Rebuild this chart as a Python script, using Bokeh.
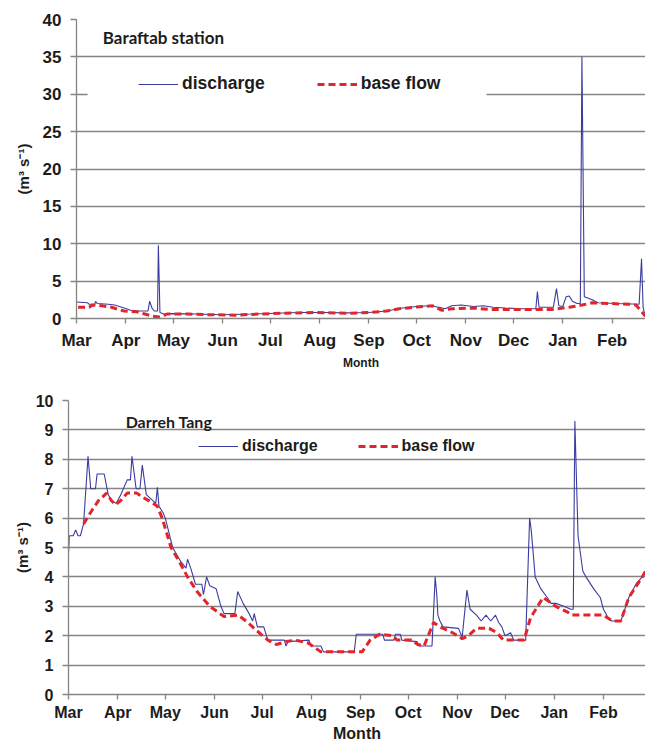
from bokeh.plotting import figure
from bokeh.models import Range1d, FixedTicker, Legend, LegendItem, Label, BoxAnnotation
from bokeh.embed import file_html
from bokeh.resources import INLINE

# ---------------- data ----------------
months = ["Mar", "Apr", "May", "Jun", "Jul", "Aug", "Sep", "Oct", "Nov", "Dec", "Jan", "Feb"]
month_start_day = [0, 31, 61, 92, 122, 153, 184, 214, 245, 275, 306, 337]

# Baraftab station (day since 1 Mar, m3/s)
baraftab_q_day = [0, 7, 8, 11.5, 12, 13, 20, 24, 27, 30, 34, 38, 45, 46, 47.5, 49, 51, 51.5, 52.5,
                  55, 60, 75, 92, 110, 125, 140, 155, 170, 184, 195, 205, 214, 222, 228, 232, 236,
                  242, 250, 256, 262, 270, 280, 289, 290, 291, 300, 302, 303.5, 306, 308, 310, 312,
                  315, 317, 318, 319.5, 322, 324.5, 328, 340, 354, 355.5, 356.5, 357.5]
baraftab_q = [2.2, 2.1, 1.9, 1.9, 2.3, 2.0, 1.9, 1.8, 1.6, 1.4, 1.1, 1.0, 1.0, 2.3, 1.4, 1.0, 1.0, 9.8, 0.8,
              0.6, 0.65, 0.6, 0.5, 0.6, 0.7, 0.8, 0.8, 0.75, 0.8, 1.0, 1.4, 1.6, 1.7, 1.5, 1.3, 1.7,
              1.8, 1.6, 1.7, 1.5, 1.4, 1.3, 1.3, 3.6, 1.5, 1.5, 4.0, 1.7, 1.6, 2.9, 3.0, 2.3,
              2.0, 2.0, 35.0, 2.9, 2.7, 2.5, 2.1, 2.0, 1.9, 8.0, 1.5, 0.5]
baraftab_bf_day = [1, 8, 10, 16, 22, 25, 30, 38, 43, 48, 52, 54, 57, 70, 85, 100, 115, 130, 150, 170,
                   185, 195, 203, 212, 224, 230, 236, 250, 260, 299, 310, 318, 324.5, 348, 352, 358]
baraftab_bf = [1.5, 1.5, 1.8, 1.7, 1.5, 1.3, 1.0, 0.9, 0.6, 0.3, 0.2, 0.3, 0.6, 0.6, 0.5, 0.45, 0.6, 0.7,
               0.8, 0.7, 0.8, 1.0, 1.3, 1.5, 1.7, 1.1, 1.3, 1.4, 1.2, 1.2, 1.5, 1.8, 2.1, 1.9, 1.8, 0.3]

# Darreh Tang station
darreh_q_day = [0, 0.5, 3, 4.5, 6, 7.5, 9.5, 12.3, 14, 17, 18, 22.5, 25, 27, 30, 33, 37, 39, 40, 42.6,
                45, 46.5, 49, 53, 55, 56, 57, 59.4, 61, 65.6, 71, 74, 75, 77, 80, 84, 85, 87, 89, 93,
                96, 98, 104.8, 106.6, 110, 113.8, 116, 117, 119, 123, 125.6, 136, 137, 138.4, 151.5,
                152.8, 159, 160.6, 180, 181.3, 198, 199, 205, 206, 209, 210, 219.5, 221, 229, 231,
                232, 232.7, 234, 236, 245.7, 248, 251, 253, 257, 260, 263, 266, 269, 271, 273, 275,
                278.5, 280.5, 288, 290.5, 291.5, 294, 297.5, 301.6, 304, 307, 312, 316.4, 318, 319,
                321, 324, 326, 330.8, 335, 337, 340, 342, 348, 353, 358, 361.5, 363.5]
darreh_q = [4.8, 5.4, 5.4, 5.6, 5.4, 5.4, 5.8, 8.1, 7.0, 7.0, 7.5, 7.5, 6.8, 6.6, 6.5, 6.8, 7.3, 7.3, 8.1, 7.0,
            7.0, 7.8, 6.8, 6.6, 6.5, 7.05, 6.4, 6.2, 6.0, 5.0, 4.5, 4.3, 4.6, 4.3, 3.75, 3.75, 3.4, 4.0, 3.7, 3.6,
            3.0, 2.75, 2.75, 3.5, 3.1, 2.75, 2.5, 2.75, 2.3, 2.3, 1.85, 1.85, 1.65, 1.8, 1.85,
            1.65, 1.65, 1.45, 1.45, 2.05, 2.05, 1.85, 1.85, 2.05, 2.05, 1.85, 1.8, 1.65, 1.65, 4.0,
            3.4, 2.7, 2.5, 2.3, 2.25, 1.95, 3.55, 2.9, 2.7, 2.5, 2.7, 2.5, 2.7, 2.45, 2.3, 2.0,
            2.1, 1.85, 1.85, 6.0, 5.6, 4.0, 3.6, 3.3, 3.1, 3.1, 3.0, 2.9, 2.9, 9.3,
            5.4, 4.2, 4.0, 3.6, 3.3, 2.9, 2.6, 2.5, 2.5, 3.3, 3.8, 4.0, 4.2]
darreh_bf_day = [9.5, 14, 19, 24, 27, 29.6, 33, 37, 43, 47, 52, 56, 59, 64.6, 70, 75, 81, 89, 98, 107,
                 113, 118, 125.6, 131, 137, 143, 151, 155, 159, 185, 190, 196, 204, 207, 216, 220,
                 224, 230, 234, 242, 248, 252, 257, 265, 270, 274, 287, 291, 299, 307, 314.5, 317,
                 337, 342.6, 348, 353, 361.5, 363.5]
darreh_bf = [5.8, 6.2, 6.6, 6.85, 6.6, 6.45, 6.6, 6.85, 6.85, 6.7, 6.55, 6.4, 6.0, 5.0, 4.5, 4.0, 3.5, 3.0,
             2.65, 2.7, 2.45, 2.2, 1.85, 1.7, 1.8, 1.85, 1.75, 1.6, 1.45, 1.45, 1.85, 2.05, 2.0, 1.85,
             1.85, 1.7, 1.65, 2.45, 2.3, 2.1, 1.9, 2.0, 2.25, 2.25, 2.1, 1.85, 1.85, 2.6, 3.3, 3.0,
             2.8, 2.7, 2.7, 2.5, 2.5, 3.3, 4.0, 4.2]

# ---------------- style ----------------
BLUE = "#3a3d9e"
RED = "#e2242b"
GRID = "#858585"
TXT = "#1c1c1c"
FONT = "Liberation Sans"
TFONT = "Lato"


def make_chart(title, qd, q, bd, b, xmax, ymax, ystep, height, border_left, border_top, border_bottom,
               tick_size, month_size, ylabel_size, legend_loc, legend_spacing, legend_size,
               title_xy, title_size, month_standoff, label_standoff, ylabel_standoff, ytick_standoff):
    p = figure(width=645, height=height, output_backend="svg", toolbar_location=None,
               x_range=Range1d(0, xmax), y_range=Range1d(0, ymax),
               min_border_left=border_left, min_border_right=0,
               min_border_top=border_top, min_border_bottom=border_bottom)
    p.outline_line_color = None
    p.background_fill_color = "white"

    r1 = p.line(qd, q, line_color=BLUE, line_width=1.1)
    r2 = p.line(bd, b, line_color=RED, line_width=3, line_dash="7 4")

    p.xgrid.visible = False
    p.ygrid.grid_line_color = GRID
    p.ygrid.grid_line_width = 1.3

    p.xaxis.ticker = FixedTicker(ticks=month_start_day)
    p.xaxis.major_label_overrides = {d: m for d, m in zip(month_start_day, months)}
    p.yaxis.ticker = FixedTicker(ticks=list(range(0, ymax + 1, ystep)))

    for ax in (p.xaxis, p.yaxis):
        ax.axis_line_color = GRID
        ax.axis_line_width = 1.3
        ax.major_tick_line_color = GRID
        ax.major_tick_line_width = 1.3
        ax.minor_tick_line_color = None
        ax.major_tick_in = 0
        ax.major_label_text_font = FONT
        ax.major_label_text_font_style = "bold"
        ax.major_label_text_font_size = tick_size
        ax.major_label_text_color = TXT
        ax.axis_label_text_font = FONT
        ax.axis_label_text_font_style = "bold"
        ax.axis_label_text_color = TXT
    p.xaxis.major_tick_out = 5
    p.yaxis.major_tick_out = 6
    p.xaxis.major_label_standoff = label_standoff
    p.yaxis.major_label_standoff = ytick_standoff
    p.xaxis.axis_label = "Month"
    p.xaxis.axis_label_text_font_size = month_size
    p.xaxis.axis_label_standoff = month_standoff
    p.yaxis.axis_label = "(m\u00b3 s\u207b\u00b9)"
    p.yaxis.axis_label_text_font_size = ylabel_size
    p.yaxis.axis_label_standoff = ylabel_standoff

    lab = Label(x=title_xy[0], y=title_xy[1], text=title, text_font=TFONT, text_font_style="bold",
                text_font_size=title_size, text_color=TXT, text_baseline="middle")
    p.add_layout(lab)

    legend = Legend(items=[LegendItem(label="discharge", renderers=[r1]),
                           LegendItem(label="base flow", renderers=[r2])],
                    orientation="horizontal", location=legend_loc, padding=0, margin=0,
                    spacing=legend_spacing, glyph_width=40, glyph_height=18, label_standoff=4,
                    label_text_font=FONT, label_text_font_style="bold",
                    label_text_font_size=legend_size, label_text_color=TXT,
                    background_fill_alpha=0, border_line_alpha=0)
    return p, legend


# top chart: frame x 76..645, y 19..318
top, top_leg = make_chart("Baraftab station", baraftab_q_day, baraftab_q, baraftab_bf_day, baraftab_bf,
                          358, 40, 5, 372, 76, 19, 54, "17px", "12px", "15px", (62, 224), 52, "17.5px",
                          (16.5, 37.6), "17px", 3, 7, 8, 9)
# white legend backdrop that hides the 30 gridline, as in the original
top.add_layout(BoxAnnotation(left=7, right=258, bottom=28.3, top=31.7, fill_color="white",
                             fill_alpha=1, line_color=None))
top.add_layout(top_leg)

# bottom chart: frame x 68..645, y 400..694
bot, bot_leg = make_chart("Darreh Tang", darreh_q_day, darreh_q, darreh_bf_day, darreh_bf,
                          363.5, 10, 1, 373, 68, 28, 51, "16px", "16px", "15px", (130, 239), 40, "16px",
                          (36, 9.3), "16px", 1, 4, 2, 9)
bot.add_layout(bot_leg)

# two independent roots stacked on the page (keeps each frame at its own left edge)
open("out.html", "w").write(file_html([top, bot], INLINE))
